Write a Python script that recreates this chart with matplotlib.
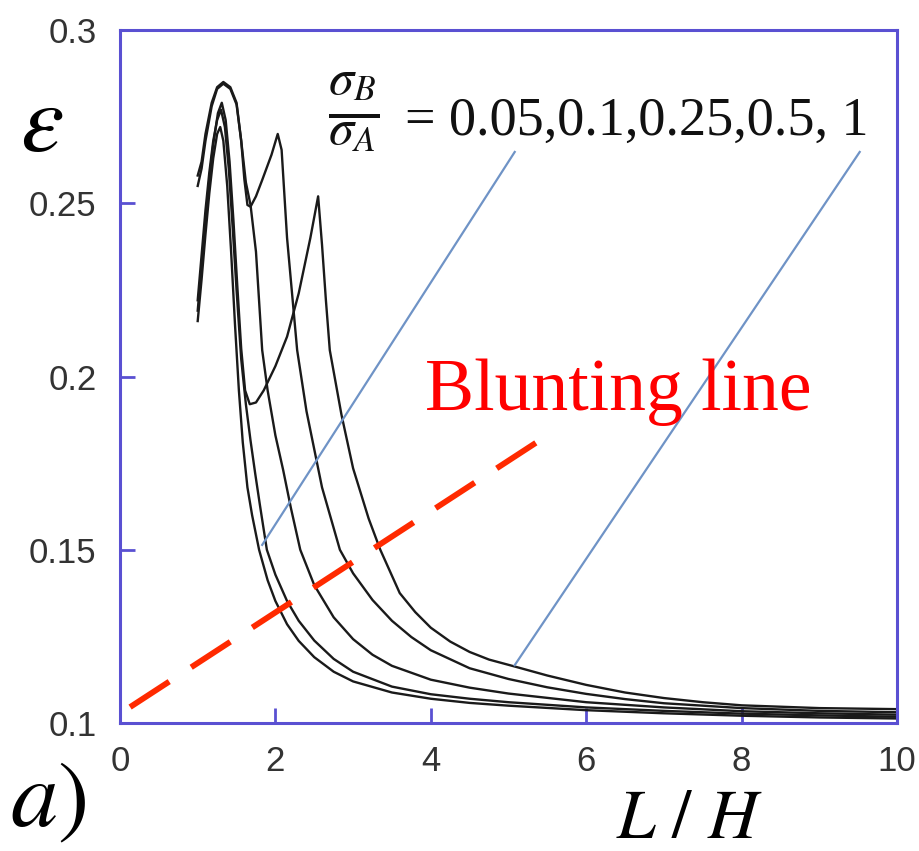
import matplotlib
matplotlib.use("Agg")
import matplotlib.pyplot as plt

plt.rcParams['mathtext.fontset'] = 'stix'

# ---- data ----
s1_x = [1.00, 1.05, 1.10, 1.15, 1.20, 1.25, 1.29, 1.33, 1.38, 1.43, 1.48, 1.53, 1.58, 1.64, 1.70,
        1.79, 1.90, 2.00, 2.15, 2.30, 2.50, 2.75, 3.00, 3.50, 4.00, 4.50, 5.00, 6.00, 7.00, 8.00, 9.00, 10.0]
s1_y = [0.216, 0.228, 0.241, 0.253, 0.263, 0.270, 0.272, 0.268, 0.255, 0.236, 0.215, 0.196, 0.181, 0.168, 0.160,
        0.150, 0.1412, 0.1352, 0.1285, 0.1237, 0.1190, 0.1148, 0.1120, 0.1088, 0.1070, 0.1058, 0.1050, 0.1037, 0.1028, 0.1021, 0.1016, 0.1013]

s2_x = [1.00, 1.05, 1.10, 1.15, 1.20, 1.25, 1.30, 1.35, 1.40, 1.45, 1.50, 1.56, 1.62, 1.68, 1.74,
        1.80, 1.89, 2.00, 2.15, 2.30, 2.50, 2.75, 3.00, 3.50, 4.00, 4.50, 5.00, 6.00, 7.00, 8.00, 9.00, 10.0]
s2_y = [0.222, 0.235, 0.248, 0.259, 0.268, 0.274, 0.277, 0.272, 0.260, 0.243, 0.225, 0.205, 0.192, 0.1815, 0.172,
        0.163, 0.150, 0.1428, 0.1352, 0.1295, 0.1238, 0.1185, 0.1148, 0.1105, 0.1083, 0.1070, 0.1060, 0.1045, 0.1035, 0.1027, 0.1022, 0.1018]

s3_x = [1.00, 1.05, 1.10, 1.18, 1.25, 1.33, 1.42, 1.50, 1.56, 1.62, 1.68, 1.75, 1.83, 1.90, 2.00,
        2.10, 2.20, 2.32, 2.50, 2.75, 3.00, 3.25, 3.50, 4.00, 4.50, 5.00, 6.00, 7.00, 8.00, 9.00, 10.0]
s3_y = [0.255, 0.260, 0.268, 0.278, 0.283, 0.2845, 0.283, 0.2785, 0.268, 0.256, 0.2495, 0.236, 0.2076, 0.196, 0.183,
        0.173, 0.162, 0.150, 0.1398, 0.1305, 0.1242, 0.1197, 0.1165, 0.1125, 0.1102, 0.1085, 0.1060, 0.1045, 0.1034, 0.1028, 0.1024]

s4_x = [1.00, 1.05, 1.10, 1.18, 1.25, 1.33, 1.42, 1.50, 1.56, 1.60, 1.64, 1.68, 1.75, 1.83, 1.95,
        2.03, 2.08, 2.15, 2.28, 2.40, 2.60, 2.83, 3.00, 3.25, 3.50, 3.75, 4.00, 4.50, 5.00, 5.50, 6.00,
        6.50, 7.00, 8.00, 9.00, 10.0]
s4_y = [0.258, 0.262, 0.270, 0.279, 0.2835, 0.285, 0.2835, 0.279, 0.268, 0.257, 0.2495, 0.249, 0.252, 0.2567, 0.264,
        0.270, 0.2654, 0.240, 0.2076, 0.190, 0.168, 0.150, 0.1432, 0.1355, 0.1295, 0.1248, 0.1210, 0.1158, 0.1127, 0.1103, 0.1084,
        0.1069, 0.1057, 0.1043, 0.1035, 0.1031]

s5_x = [1.00, 1.05, 1.10, 1.15, 1.20, 1.26, 1.31, 1.36, 1.41, 1.46, 1.51, 1.56, 1.61, 1.67, 1.75,
        1.85, 2.00, 2.15, 2.30, 2.45, 2.55, 2.60, 2.65, 2.70, 2.85, 3.00, 3.20, 3.35, 3.60, 3.80, 4.00,
        4.25, 4.50, 4.75, 5.08, 5.50, 6.00, 6.50, 7.00, 7.50, 8.00, 9.00, 10.0]
s5_y = [0.219, 0.232, 0.245, 0.257, 0.267, 0.276, 0.279, 0.274, 0.262, 0.245, 0.226, 0.208, 0.196, 0.192, 0.1925,
        0.196, 0.203, 0.2115, 0.224, 0.240, 0.252, 0.238, 0.222, 0.2076, 0.189, 0.1735, 0.159, 0.150, 0.1375, 0.1320, 0.1275,
        0.1235, 0.1205, 0.1183, 0.1163, 0.1137, 0.1110, 0.1088, 0.1072, 0.1060, 0.1051, 0.1043, 0.1040]

series = [(s1_x, s1_y), (s2_x, s2_y), (s3_x, s3_y), (s4_x, s4_y), (s5_x, s5_y)]

blunt_x = [0.13, 5.41]
blunt_y = [0.1046, 0.1817]

ptr1_x = [1.83, 5.08]
ptr1_y = [0.1514, 0.2648]
ptr2_x = [5.08, 9.52]
ptr2_y = [0.1167, 0.2648]

x_ticks = [0, 2, 4, 6, 8, 10]
y_ticks = [0.1, 0.15, 0.2, 0.25, 0.3]
y_ticklabels = ['0.1', '0.15', '0.2', '0.25', '0.3']

ratio_text = '= 0.05,0.1,0.25,0.5, 1'

# ---- figure ----
W, H = 919, 851
fig = plt.figure(figsize=(W / 100, H / 100), dpi=100)
ax = fig.add_axes([120 / W, 1 - 723 / H, (897 - 120) / W, (723 - 30) / H])

for xs, ys in series:
    ax.plot(xs, ys, color='#1a1a1a', lw=1.7, solid_joinstyle='round')

ax.plot(ptr1_x, ptr1_y, color='#6f93c6', lw=1.6)
ax.plot(ptr2_x, ptr2_y, color='#6f93c6', lw=1.6)
ax.plot(blunt_x, blunt_y, color='#ff2a00', lw=4.2, dashes=(8, 4.5))

ax.set_xlim(0, 10)
ax.set_ylim(0.1, 0.3)
ax.set_xticks(x_ticks)
ax.set_xticklabels([str(t) for t in x_ticks])
ax.set_yticks(y_ticks)
ax.set_yticklabels(y_ticklabels)

frame_col = '#5a50d2'
for sp in ax.spines.values():
    sp.set_color(frame_col)
    sp.set_linewidth(2.2)
ax.tick_params(direction='in', length=11, width=2, color=frame_col,
               labelsize=25, labelcolor='#333333', top=False, right=False)
ax.tick_params(axis='x', pad=16)
ax.tick_params(axis='y', pad=17)
for lab in ax.get_xticklabels() + ax.get_yticklabels():
    lab.set_family('Liberation Sans')

ax.text(3.93, 0.1903, 'Blunting line', color='#ff0000', fontsize=53,
        family='Liberation Serif', ha='left', va='baseline')

# sigma ratio annotation
ax.text(2.68, 0.2763, r'$\frac{\sigma_B}{\sigma_A}$', fontsize=52,
        ha='left', va='center', color='#111111')
ax.text(3.67, 0.2697, ratio_text, fontsize=39, family='Liberation Serif',
        ha='left', va='baseline', color='#111111')

fig.text(42 / W, 1 - 125 / H, r'$\varepsilon$', fontsize=70, ha='center', va='center')
fig.text(48 / W, 1 - 800 / H, r'$a)$', fontsize=68, ha='center', va='center')
fig.text(690 / W, 1 - 818 / H, r'$L\ /\ H$', fontsize=50, ha='center', va='center')

fig.savefig('out.png', dpi=100)
